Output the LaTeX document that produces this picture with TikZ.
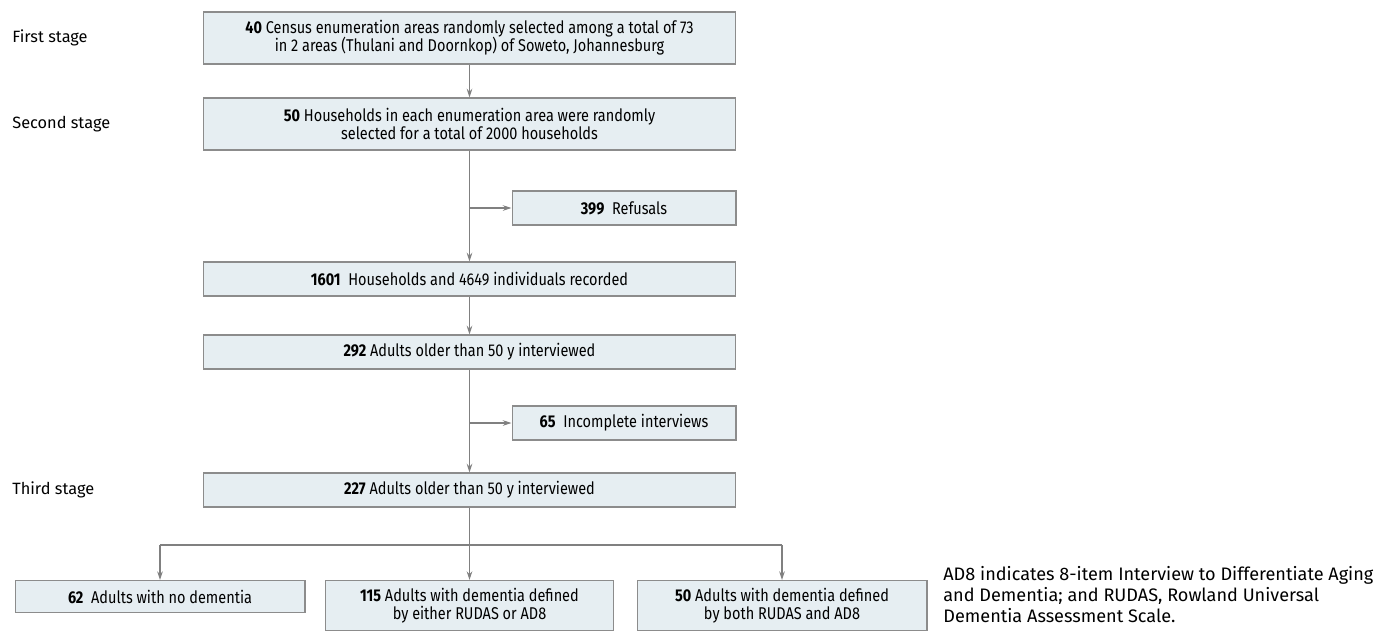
\documentclass[tikz,border=0pt]{standalone}
\usepackage{fontspec}
\setmainfont{Fira Sans}
\newfontfamily\narrowfont[FakeStretch=0.85]{Fira Sans}
\usetikzlibrary{arrows.meta,positioning}
\definecolor{boxfill}{HTML}{E6EEF2}
\definecolor{boxline}{HTML}{8C8C8C}
\definecolor{arrowgray}{HTML}{808080}

\begin{document}
\begin{tikzpicture}[x=0.02cm, y=-0.02cm,
                    every flow box/.style = {},
                    flow box/.style = {rectangle, draw=boxline, fill=boxfill, line width=0.6pt, align=center, inner sep=2pt, font=\narrowfont\fontsize{9.7}{10.4}\selectfont, every flow box},
                    main box/.style = {flow box, minimum width=10.66cm, minimum height=0.68cm},
                    side box/.style = {flow box, minimum width=4.48cm, minimum height=0.68cm},
                    leaf box/.style = {flow box, anchor=north, minimum width=5.8cm},
                    stage label/.style = {anchor=west, inner sep=0pt, font=\fontsize{9.3}{10.5}\selectfont},
                    link/.style = {draw=arrowgray, line width=0.6pt},
                    flow/.style = {link, -{Stealth[length=5pt, width=3.2pt]}}]
                \useasboundingbox (0,0) rectangle (1386,637);
                % stage labels left
                \node[stage label] (first) at (12,38) {First stage};
                \node[stage label] (second) at (12,124) {Second stage};
                \node[stage label] (third) at (12,490) {Third stage};
                % main column
                \node[main box, minimum height=1.04cm] (areas) at (469.5,38) {\textbf{40} Census enumeration areas randomly selected among a total of 73\\in 2 areas (Thulani and Doornkop) of Soweto, Johannesburg};
                \node[main box, minimum height=1.04cm] (households) at (469.5,124) {\textbf{50} Households in each enumeration area were randomly\\selected for a total of 2000 households};
                \node[side box] (refusals) at (624,208) {\textbf{399}\ \ Refusals};
                \node[main box] (recorded) at (469.5,279) {\textbf{1601}\ \ Households and 4649 individuals recorded};
                \node[main box] (interviewed) at (469.5,352) {\textbf{292} Adults older than 50 y interviewed};
                \node[side box] (incomplete) at (624,423) {\textbf{65}\ \ Incomplete interviews};
                \node[main box] (analysed) at (469.5,490) {\textbf{227} Adults older than 50 y interviewed};
                % outcomes bottom
                \coordinate (split) at (469.5,545);
                \node[leaf box, minimum height=0.64cm] (nodementia) at (160,580) {\textbf{62}\ \ Adults with no dementia};
                \node[leaf box, minimum width=5.76cm, minimum height=1.0cm] (either) at (469.5,580) {\textbf{115} Adults with dementia defined\\by either RUDAS or AD8};
                \node[leaf box, minimum height=1.0cm] (both) at (782,580) {\textbf{50} Adults with dementia defined\\by both RUDAS and AD8};
                % note right
                \node[anchor=north west, inner sep=0pt, align=left, font=\fontsize{10.3}{12}\selectfont] (note) at (943,566) {AD8 indicates 8-item Interview to Differentiate Aging\\and Dementia; and RUDAS, Rowland Universal\\Dementia Assessment Scale.};
                %connections
                \draw[flow] (areas) -- (households);
                \draw[flow] (households) -- (recorded);
                \draw[flow] (households.south |- refusals.west) -- (refusals);
                \draw[flow] (recorded) -- (interviewed);
                \draw[flow] (interviewed) -- (analysed);
                \draw[flow] (interviewed.south |- incomplete.west) -- (incomplete);
                \draw[link] (analysed) -- (split);
                \draw[link] (split -| nodementia.north) -- (split -| both.north);
                \draw[flow] (split -| nodementia.north) -- (nodementia);
                \draw[flow] (split) -- (either);
                \draw[flow] (split -| both.north) -- (both);
            \end{tikzpicture}
\end{document}
